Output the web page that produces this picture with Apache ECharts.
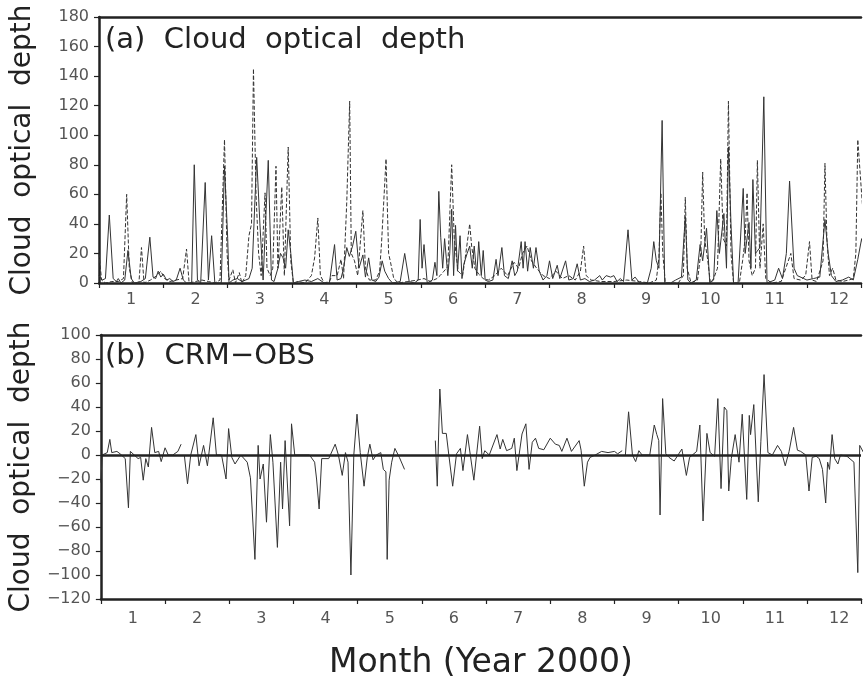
<!DOCTYPE html>
<html>
<head>
<meta charset="utf-8">
<script src="https://cdn.jsdelivr.net/npm/echarts@6/dist/echarts.min.js"></script>
<style>
html,body{margin:0;padding:0;background:#fff;}
#chart{width:864px;height:681px;}
</style>
</head>
<body>
<div id="chart"></div>
<script>
// Month labels (ticks at month boundaries, labels mid-month)
const months = ['1','2','3','4','5','6','7','8','9','10','11','12'];
// visible x range in months (plot is cut at the right edge of the picture)
const xRange = {min: 0, max: 11.84};

// Panel (a): CRM cloud optical depth (solid), [month position, value]
const crmSolid = [
[0.00,5],[0.05,2],[0.10,3],[0.16,46],[0.22,3],[0.27,1],[0.30,3],[0.34,0],[0.40,2],[0.45,22],[0.50,3],[0.55,0],[0.65,1],[0.72,3],[0.79,31],[0.84,4],[0.88,3],[0.92,8],[0.96,4],[1.00,6],[1.05,2],[1.10,3],[1.15,1],[1.20,2],[1.26,10],[1.31,2],[1.36,0],[1.44,0],[1.48,80],[1.53,2],[1.58,0],[1.65,68],[1.70,2],[1.75,32],[1.80,0],[1.90,0],[1.95,79],[2.00,30],[2.02,0],[2.08,2],[2.15,3],[2.22,1],[2.28,2],[2.33,3],[2.38,10],[2.45,85],[2.50,40],[2.55,2],[2.58,3],[2.63,83],[2.68,2],[2.72,1],[2.78,10],[2.82,20],[2.86,17],[2.90,10],[2.94,36],[2.98,20],[3.02,0],[3.10,1],[3.20,2],[3.30,1],[3.40,3],[3.50,0],[3.58,0],[3.66,26],[3.70,2],[3.76,3],[3.80,10],[3.85,24],[3.89,18],[3.94,25],[3.99,35],[4.04,10],[4.10,19],[4.14,4],[4.19,17],[4.24,2],[4.30,1],[4.35,4],[4.40,15],[4.44,8],[4.50,3],[4.56,0],[4.68,1],[4.75,20],[4.82,1],[4.90,0],[4.96,2],[4.99,43],[5.02,10],[5.05,26],[5.10,0],[5.18,2],[5.22,14],[5.25,5],[5.28,62],[5.31,31],[5.34,10],[5.37,30],[5.42,5],[5.45,20],[5.48,50],[5.51,5],[5.54,39],[5.57,8],[5.61,32],[5.64,3],[5.67,13],[5.72,20],[5.76,25],[5.80,10],[5.83,25],[5.87,5],[5.90,28],[5.94,5],[5.97,22],[6.00,2],[6.05,1],[6.12,2],[6.17,16],[6.20,5],[6.26,24],[6.30,5],[6.36,3],[6.42,15],[6.46,5],[6.50,8],[6.56,28],[6.59,10],[6.62,28],[6.66,8],[6.70,24],[6.75,10],[6.79,24],[6.84,8],[6.90,2],[6.96,5],[7.00,15],[7.05,3],[7.12,12],[7.16,3],[7.25,15],[7.30,2],[7.37,3],[7.43,13],[7.48,2],[7.55,3],[7.62,1],[7.70,2],[7.78,5],[7.82,2],[7.88,5],[7.95,4],[8.00,5],[8.05,1],[8.10,3],[8.15,1],[8.22,36],[8.28,2],[8.33,4],[8.40,0],[8.52,0],[8.58,10],[8.62,28],[8.66,15],[8.70,10],[8.75,110],[8.79,0],[8.88,0],[8.96,2],[9.05,4],[9.11,45],[9.15,2],[9.20,0],[9.28,2],[9.34,26],[9.38,15],[9.44,37],[9.49,0],[9.55,2],[9.60,49],[9.64,20],[9.71,47],[9.75,10],[9.78,92],[9.82,40],[9.86,0],[9.93,0],[10.01,64],[10.04,20],[10.10,41],[10.13,10],[10.16,70],[10.20,20],[10.27,24],[10.33,126],[10.38,0],[10.50,2],[10.56,10],[10.62,3],[10.68,20],[10.73,69],[10.80,10],[10.85,5],[10.95,3],[11.00,2],[11.10,3],[11.20,4],[11.28,43],[11.33,20],[11.38,5],[11.45,1],[11.55,2],[11.65,4],[11.72,2],[11.79,16],[11.85,30],[11.95,10]
];

// Panel (a): observed cloud optical depth (dashed)
const obsDashed = [
[0.00,20],[0.04,2],[0.10,0],[0.20,1],[0.30,1],[0.38,3],[0.43,60],[0.47,10],[0.52,0],[0.62,0],[0.66,24],[0.70,0],[0.80,2],[0.90,5],[0.96,8],[1.02,3],[1.10,1],[1.20,2],[1.30,3],[1.36,23],[1.40,0],[1.50,1],[1.60,2],[1.70,1],[1.80,0],[1.88,2],[1.95,97],[1.99,20],[2.02,2],[2.08,9],[2.12,0],[2.18,7],[2.22,0],[2.28,5],[2.33,32],[2.37,40],[2.40,145],[2.44,60],[2.48,20],[2.52,5],[2.58,61],[2.61,10],[2.66,5],[2.70,10],[2.75,79],[2.78,10],[2.84,65],[2.88,5],[2.94,92],[2.98,15],[3.02,0],[3.10,1],[3.20,0],[3.30,5],[3.35,17],[3.40,44],[3.44,5],[3.50,0],[3.58,1],[3.62,5],[3.70,5],[3.76,16],[3.80,3],[3.85,55],[3.895,123],[3.92,20],[3.97,15],[4.02,5],[4.10,49],[4.14,10],[4.20,2],[4.30,2],[4.36,8],[4.39,27],[4.46,84],[4.50,20],[4.53,14],[4.58,3],[4.65,0],[4.80,1],[4.95,2],[5.05,3],[5.15,1],[5.25,3],[5.30,5],[5.36,8],[5.42,11],[5.48,80],[5.52,30],[5.58,8],[5.65,5],[5.70,20],[5.76,40],[5.79,25],[5.84,10],[5.90,6],[5.97,3],[6.05,2],[6.15,5],[6.25,10],[6.35,5],[6.45,14],[6.52,10],[6.58,20],[6.65,25],[6.72,15],[6.80,10],[6.90,5],[7.00,3],[7.10,8],[7.20,3],[7.30,5],[7.40,2],[7.48,8],[7.53,25],[7.57,5],[7.65,2],[7.80,1],[8.00,1],[8.20,2],[8.40,1],[8.55,0],[8.66,2],[8.70,17],[8.73,61],[8.76,20],[8.80,0],[9.00,0],[9.08,5],[9.11,58],[9.14,10],[9.20,0],[9.30,2],[9.35,20],[9.38,75],[9.41,30],[9.46,15],[9.50,0],[9.55,3],[9.61,10],[9.66,84],[9.70,30],[9.75,25],[9.78,123],[9.82,20],[9.86,0],[9.95,0],[10.00,15],[10.04,30],[10.07,61],[10.10,15],[10.15,5],[10.20,10],[10.23,83],[10.27,10],[10.32,40],[10.36,3],[10.45,0],[10.60,1],[10.75,20],[10.80,3],[10.90,2],[10.98,5],[11.04,28],[11.08,2],[11.15,1],[11.25,15],[11.28,81],[11.31,30],[11.35,5],[11.40,10],[11.45,2],[11.55,1],[11.65,2],[11.72,3],[11.76,20],[11.79,97],[11.85,60],[11.95,5]
];

// Panel (b): CRM - OBS difference (null = gap)
const diffCrmObs = [
[0.00,-23],[0.02,0],[0.10,2],[0.14,13],[0.17,2],[0.25,3],[0.30,1],[0.38,-3],[0.43,-44],[0.46,3],[0.52,0],[0.58,-3],[0.62,-2],[0.66,-21],[0.70,-3],[0.74,-10],[0.79,23],[0.84,2],[0.90,3],[0.94,-5.5],[1.00,6],[1.05,0],[1.12,0],[1.20,3],[1.25,9],[1.26,null],[1.30,0],[1.35,-24],[1.40,0],[1.48,17],[1.53,-9],[1.60,8],[1.66,-9],[1.75,31],[1.80,0],[1.88,0],[1.95,-20],[1.99,22],[2.04,-2],[2.09,-7.5],[2.18,0],[2.28,-6],[2.33,-19],[2.40,-87],[2.45,8],[2.48,-20],[2.53,-7.5],[2.58,-56],[2.64,17],[2.68,-6],[2.75,-77],[2.80,-6],[2.83,-45],[2.87,12],[2.94,-59],[2.97,26],[3.02,0],[3.15,0],[3.25,0],[3.33,-6],[3.36,-20],[3.40,-45],[3.44,-3],[3.55,-3],[3.65,9],[3.70,0],[3.76,-17],[3.81,2],[3.85,-6],[3.895,-100],[3.94,0],[3.99,34],[4.04,2],[4.10,-26],[4.15,-2],[4.19,9],[4.24,-4],[4.29,0],[4.36,2],[4.40,-12],[4.44,-14],[4.46,-87],[4.49,-21],[4.53,-6],[4.58,5.5],[4.65,-2],[4.73,-12],[4.75,null],[5.21,12],[5.24,-26],[5.28,55],[5.32,18],[5.38,18],[5.42,0],[5.48,-26],[5.54,1],[5.60,5.5],[5.64,-13],[5.71,17],[5.81,-21],[5.90,24],[5.94,-3],[5.98,3.6],[6.05,0],[6.17,17],[6.22,5],[6.26,13],[6.32,3.6],[6.40,5.5],[6.44,14],[6.48,-13],[6.56,17.5],[6.62,26],[6.67,-12],[6.72,10.6],[6.77,14],[6.82,5.5],[6.90,4.4],[7.00,14],[7.08,9],[7.14,8],[7.18,3],[7.26,14],[7.33,3],[7.45,12],[7.48,4],[7.53,-26],[7.58,-6],[7.62,-2],[7.70,0],[7.80,3],[7.90,2],[8.00,3],[8.05,1],[8.12,3.6],[8.13,null],[8.17,0],[8.22,36],[8.28,0],[8.33,-5.5],[8.38,3.6],[8.43,0],[8.55,0],[8.62,25],[8.66,17],[8.69,12],[8.71,-50],[8.75,47],[8.80,1],[8.85,-2],[8.93,-5],[9.05,5],[9.12,-17],[9.17,-2],[9.28,3],[9.33,25],[9.38,-55],[9.44,18],[9.49,2],[9.56,-1],[9.61,47],[9.66,-28],[9.71,40],[9.75,37],[9.78,-30],[9.82,-3],[9.88,17],[9.94,-6],[9.99,34],[10.06,-37],[10.10,33],[10.12,17],[10.17,42],[10.24,-39],[10.28,11],[10.33,67],[10.39,2],[10.46,0],[10.54,8],[10.60,3],[10.66,-9],[10.72,3],[10.79,23],[10.85,4],[10.90,3],[10.98,0],[11.03,-30],[11.08,-2],[11.14,-1],[11.19,-3],[11.24,-12],[11.29,-40],[11.32,-6],[11.35,-12],[11.39,17],[11.43,-3],[11.48,-7.5],[11.52,0],[11.62,-1],[11.73,-6],[11.79,-98],[11.82,8],[11.90,0]
];

const yTopRange = {min: 0, max: 180, interval: 20};
const yBotRange = {min: -120, max: 100, interval: 20};

const FONT = 'DejaVu Sans';
const INK = '#222';
const LABEL = '#555';
const LINE = '#333';

// axis carrying month-boundary ticks (data axis)
function tickAxis(gridIndex) {
  return {
    type: 'value', gridIndex: gridIndex, position: 'bottom', min: xRange.min, max: xRange.max, interval: 1,
    axisLine: {show: true, onZero: false, lineStyle: {color: INK, width: 2.5}},
    axisTick: {show: true, length: 5, lineStyle: {color: INK, width: 1.2}},
    axisLabel: {show: false},
    splitLine: {show: false}
  };
}
// axis carrying mid-month labels
function labelAxis(gridIndex, margin, showName) {
  return {
    type: 'value', gridIndex: gridIndex, position: 'bottom', min: xRange.min, max: xRange.max, interval: 0.5,
    axisLine: {show: false, onZero: false},
    axisTick: {show: false},
    axisLabel: {margin: margin, fontFamily: FONT, fontSize: 16, color: LABEL,
      showMinLabel: true, showMaxLabel: true,
      formatter: v => {
        const i = Math.round(v - 0.5);
        return Math.abs(v - i - 0.5) < 1e-6 ? months[i] : '';
      }},
    splitLine: {show: false},
    name: showName ? 'Month (Year 2000)' : '',
    nameLocation: 'middle', nameGap: 48,
    nameTextStyle: {fontFamily: FONT, fontSize: 33, color: INK}
  };
}
// top frame line
function topAxis(gridIndex) {
  return {
    type: 'value', gridIndex: gridIndex, position: 'top', min: xRange.min, max: xRange.max,
    axisLine: {show: true, onZero: false, lineStyle: {color: INK, width: 2.5}},
    axisTick: {show: false}, axisLabel: {show: false}, splitLine: {show: false}
  };
}
function yAxis(gridIndex, range) {
  return {
    type: 'value', gridIndex: gridIndex, min: range.min, max: range.max, interval: range.interval,
    axisLine: {show: true, onZero: false, lineStyle: {color: INK, width: 2.5}},
    axisTick: {show: true, length: 5, lineStyle: {color: INK, width: 1.2}},
    axisLabel: {margin: 10, fontFamily: FONT, fontSize: 16, color: LABEL,
      formatter: v => String(v).replace('-', '\u2212')},
    splitLine: {show: false},
    name: 'Cloud  optical  depth', nameLocation: 'middle', nameGap: 62,
    nameTextStyle: {fontFamily: FONT, fontSize: 28, color: INK}
  };
}

const chart = echarts.init(document.getElementById('chart'), null, {renderer: 'canvas'});
chart.setOption({
  animation: false,
  backgroundColor: '#fff',
  title: [
    {text: '(a)  Cloud  optical  depth', left: 105, top: 26, padding: 0,
     textStyle: {fontFamily: FONT, fontSize: 29, fontWeight: 'normal', color: INK}},
    {text: '(b)  CRM\u2212OBS', left: 105, top: 342, padding: 0,
     textStyle: {fontFamily: FONT, fontSize: 29, fontWeight: 'normal', color: INK}}
  ],
  grid: [
    {left: 99, top: 17, right: 0, height: 266},
    {left: 99, top: 335, right: 0, height: 264}
  ],
  xAxis: [tickAxis(0), labelAxis(0, 9, false), topAxis(0), tickAxis(1), labelAxis(1, 12, true), topAxis(1)],
  yAxis: [yAxis(0, yTopRange), yAxis(1, yBotRange)],
  series: [
    {name: 'OBS', type: 'line', xAxisIndex: 0, yAxisIndex: 0, data: obsDashed, showSymbol: false, symbol: 'none',
     lineStyle: {color: LINE, width: 1, type: [4, 2]}},
    {name: 'CRM', type: 'line', xAxisIndex: 0, yAxisIndex: 0, data: crmSolid, showSymbol: false, symbol: 'none',
     lineStyle: {color: LINE, width: 1, type: 'solid'}},
    {name: 'CRM-OBS', type: 'line', xAxisIndex: 3, yAxisIndex: 1, data: diffCrmObs, showSymbol: false, symbol: 'none',
     connectNulls: false,
     lineStyle: {color: LINE, width: 1},
     markLine: {silent: true, symbol: 'none', label: {show: false},
       lineStyle: {color: INK, width: 2.5, type: 'solid'}, data: [{yAxis: 0}]}}
  ]
});
</script>
</body>
</html>
